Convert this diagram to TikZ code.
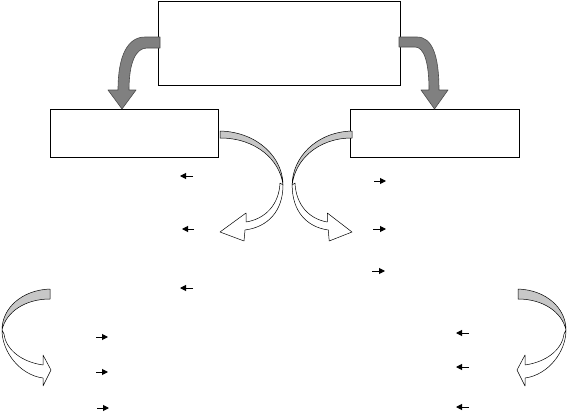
\documentclass[tikz,border=0pt]{standalone}
\usetikzlibrary{arrows.meta}
\begin{document}
\begin{tikzpicture}[x=1pt,y=-1pt,
  boxstyle/.style={draw=black,line width=1.2pt,fill=white,inner sep=0pt,anchor=north west},
  fatarrow/.style={fill=black!50,draw=black!70,line width=0.6pt,line join=round},
  backband/.style={fill=black!22,draw=black,line width=0.5pt,line join=round},
  frontband/.style={fill=white,draw=black,line width=0.5pt,line join=round},
  smallarrow/.style={-{Triangle[length=6pt,width=6pt]},line width=1pt}]
\useasboundingbox (0,0) rectangle (568,415);
% boxes
\node[boxstyle,minimum width=242pt,minimum height=84pt] (top) at (158,1) {};
\node[boxstyle,minimum width=168pt,minimum height=48pt] (lbox) at (50,109) {};
\node[boxstyle,minimum width=169pt,minimum height=48pt] (rbox) at (350,109) {};
% top fat arrows
\path[fatarrow] (160,37) -- (145,37) .. controls (128,37) and (118,55) .. (118,90)
  -- (108,90) -- (122,109) -- (136,90) -- (129,90)
  .. controls (129,62) and (136,48) .. (147,48) -- (160,48) -- cycle;
\path[fatarrow] (399,37) -- (417,37) .. controls (432,37) and (439,55) .. (439,90)
  -- (448,90) -- (434.5,109) -- (421,90) -- (429,90)
  .. controls (429,62) and (424,47) .. (415,47) -- (399,47) -- cycle;
% middle curved arrows
\begin{scope}[shift={(220,131)}]
  \path[backband] (0,0) .. controls (38,1) and (63,27) .. (63,54) .. controls (60,29) and (36,7) .. (0,7) -- cycle;
  \path[frontband] (63,54) .. controls (63,80) and (48,96) .. (25,99) -- (24,110) -- (0,101) -- (26,82) -- (26,91) .. controls (45,88) and (59,74) .. (60,52) -- cycle;
\end{scope}
\begin{scope}[shift={(352,131)},xscale=-0.95]
  \path[backband] (0,0) .. controls (38,1) and (63,27) .. (63,54) .. controls (60,29) and (36,7) .. (0,7) -- cycle;
  \path[frontband] (63,54) .. controls (63,80) and (48,96) .. (25,99) -- (24,110) -- (0,101) -- (26,82) -- (26,91) .. controls (45,88) and (59,74) .. (60,52) -- cycle;
\end{scope}
% bottom curved arrows
\path[backband] (50,289) .. controls (22,290) and (2,308) .. (2,330) .. controls (6,312) and (25,299) .. (50,299) -- cycle;
\path[frontband] (2,330) .. controls (2,352) and (20,375) .. (43,378) -- (43,386) -- (51,370) -- (43,355) -- (43,365) .. controls (22,362) and (6,350) .. (4,334) -- cycle;
\begin{scope}[shift={(568,0)},xscale=-1]
\path[backband] (50,289) .. controls (22,290) and (2,308) .. (2,330) .. controls (6,312) and (25,299) .. (50,299) -- cycle;
\path[frontband] (2,330) .. controls (2,352) and (20,375) .. (43,378) -- (43,386) -- (51,370) -- (43,355) -- (43,365) .. controls (22,362) and (6,350) .. (4,334) -- cycle;
\end{scope}
% small arrows
\coordinate (a1s) at (193,176); \coordinate (a1e) at (180,176);
\coordinate (a2s) at (194,229); \coordinate (a2e) at (182,229);
\coordinate (a3s) at (193,288); \coordinate (a3e) at (180,288);
\coordinate (b1s) at (374,181); \coordinate (b1e) at (386,181);
\coordinate (b2s) at (373,229); \coordinate (b2e) at (386,229);
\coordinate (b3s) at (372,271); \coordinate (b3e) at (385,271);
\coordinate (c1s) at (96,337); \coordinate (c1e) at (108,337);
\coordinate (c2s) at (96,372); \coordinate (c2e) at (108,372);
\coordinate (c3s) at (97,408); \coordinate (c3e) at (109,408);
\coordinate (d1s) at (469,333); \coordinate (d1e) at (456,333);
\coordinate (d2s) at (469,367); \coordinate (d2e) at (456,367);
\coordinate (d3s) at (469,407); \coordinate (d3e) at (456,407);
\foreach \p in {a1,a2,a3,b1,b2,b3,c1,c2,c3,d1,d2,d3}
  \draw[smallarrow] (\p s) -- (\p e);
\end{tikzpicture}
\end{document}
